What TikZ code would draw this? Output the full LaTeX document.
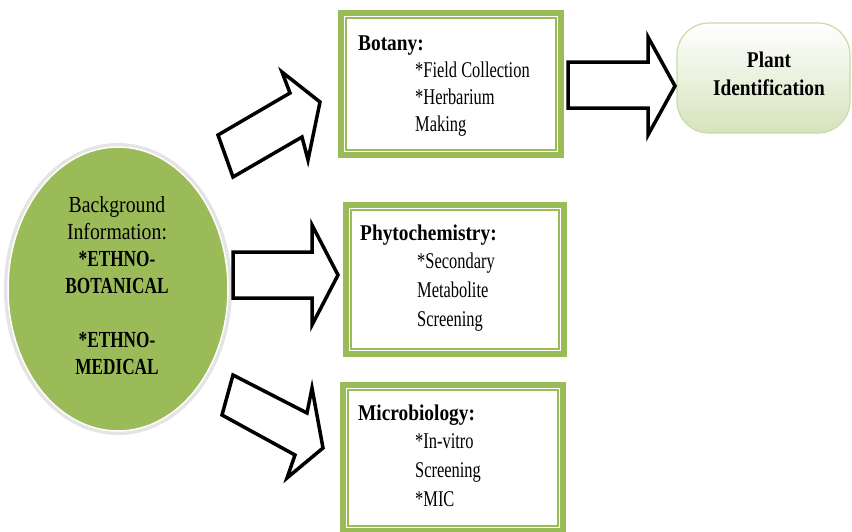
\documentclass[tikz,border=0pt]{standalone}
\usepackage{fontspec}
\setmainfont{Liberation Serif}[FakeStretch=0.73, BoldFeatures={FakeStretch=0.86}]
\newfontfamily\ovalfont{Liberation Serif}[FakeStretch=0.86, BoldFeatures={FakeStretch=0.75}]
\usetikzlibrary{calc,shapes.geometric}
\definecolor{olivegreen}{RGB}{155,187,89}
\definecolor{paleolive}{RGB}{214,227,188}
\definecolor{rimgray}{RGB}{228,228,228}
\tikzset{
  panel/.style={draw=olivegreen, line width=6pt, fill=white, rectangle},
  panelinner/.style={draw=olivegreen, line width=1.3pt},
  blockarrow/.style={draw=black, fill=white, line width=3.5pt, line join=miter},
  boxtext/.style={anchor=base west, inner sep=0pt},
}
\begin{document}
\begin{tikzpicture}[x=1pt, y=-1pt]
\clip (0,0) rectangle (852,531);
\fill[white] (0,0) rectangle (852,531);

% source ellipse with a pale rim
\node[ellipse, draw=rimgray, line width=4pt, fill=olivegreen,
      minimum width=224pt, minimum height=288pt] (bg) at (118,289) {};
\draw[white, line width=1.5pt] (bg.center) ellipse [x radius=110pt, y radius=142pt];
\node[align=center, inner sep=0pt, font=\ovalfont\fontsize{23}{27}\selectfont] (bgtext) at (117,286)
  {Background\\Information:\\\textbf{*ETHNO-}\\\textbf{BOTANICAL}\\[27pt]\textbf{*ETHNO-}\\\textbf{MEDICAL}};

% three discipline panels
\node[panel, minimum width=220pt, minimum height=142pt] (bot) at (451,84) {};
\draw[panelinner] ($(bot.north west)+(8,8)$) rectangle ($(bot.south east)+(-8,-8)$);
\node[panel, minimum width=218pt, minimum height=149pt] (phy) at (455,279.5) {};
\draw[panelinner] ($(phy.north west)+(8,8)$) rectangle ($(phy.south east)+(-8,-8)$);
\node[panel, minimum width=220pt, minimum height=146pt] (mic) at (453,458) {};
\draw[panelinner] ($(mic.north west)+(8,8)$) rectangle ($(mic.south east)+(-8,-8)$);

\node[boxtext, font=\fontsize{22.5}{27}\selectfont] (bottext) at (358,50) {\begin{tabular}[t]{@{}p{57pt}@{}l@{}}
  \multicolumn{2}{@{}l@{}}{\textbf{Botany:}}\\
  & *Field Collection\\ & *Herbarium\\ & Making\end{tabular}};
\node[boxtext, font=\fontsize{22.5}{28.8}\selectfont] (phytext) at (360,240) {\begin{tabular}[t]{@{}p{57pt}@{}l@{}}
  \multicolumn{2}{@{}l@{}}{\textbf{Phytochemistry:}}\\
  & *Secondary\\ & Metabolite\\ & Screening\end{tabular}};
\node[boxtext, font=\fontsize{22.5}{28.8}\selectfont] (mictext) at (358,420) {\begin{tabular}[t]{@{}p{57pt}@{}l@{}}
  \multicolumn{2}{@{}l@{}}{\textbf{Microbiology:}}\\
  & *In-vitro\\ & Screening\\ & *MIC\end{tabular}};

% outcome
\node[rectangle, rounded corners=32pt, draw=paleolive!80!olivegreen, line width=1.2pt,
      top color=white, bottom color=paleolive,
      minimum width=173pt, minimum height=110pt] (plant) at (763.5,78) {};
\node[align=center, inner sep=0pt, font=\fontsize{22.5}{28}\selectfont\bfseries] (planttext) at (769,74)
  {Plant\\Identification};

% block arrows
\draw[blockarrow] (218,135) -- (290,93) -- (282,72) -- (320,102) -- (308,160) -- (302,137) -- (233,177) -- cycle;
\draw[blockarrow] (233,252) -- (312,252) -- (312,225) -- (338,275) -- (312,325) -- (312,298) -- (233,298) -- cycle;
\draw[blockarrow] (233,375) -- (307,413) -- (312,388) -- (323,448) -- (287,478) -- (295,455) -- (222,415) -- cycle;
\draw[blockarrow] (568,62) -- (648,62) -- (648,37) -- (675,86) -- (648,135) -- (648,108) -- (568,108) -- cycle;
\end{tikzpicture}
\end{document}
